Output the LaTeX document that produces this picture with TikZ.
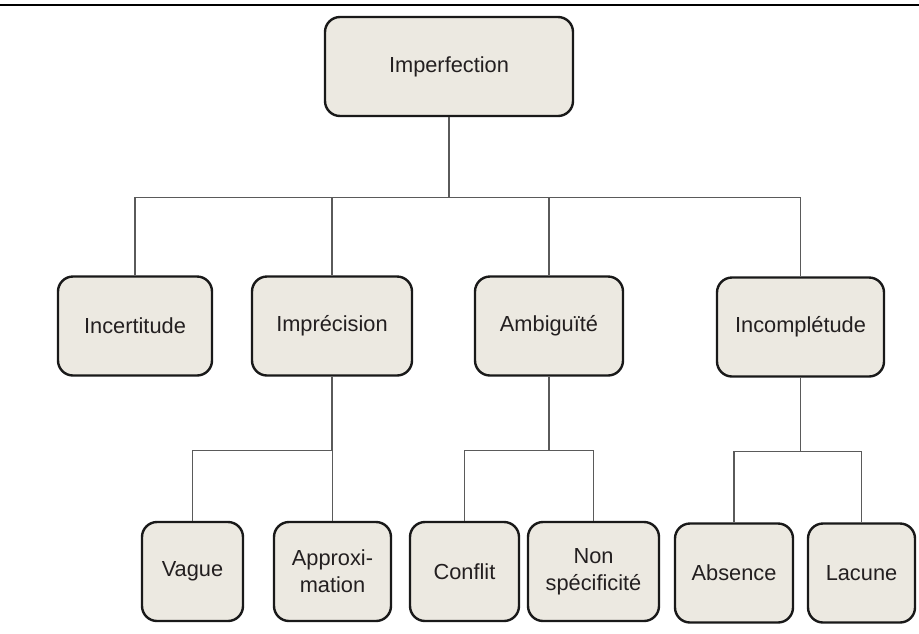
\documentclass[tikz,border=0pt]{standalone}
\usepackage{fontspec}
\setmainfont{Liberation Sans}
\usepackage{xcolor}
\usepackage{tikz}
\usetikzlibrary{positioning}

\definecolor{boxfill}{HTML}{ECE9E1}
\definecolor{linkgray}{HTML}{5A5A5A}
\definecolor{txtdark}{HTML}{231F20}

\begin{document}
\begin{tikzpicture}[x=0.5pt, y=-0.5pt,
    concept/.style={draw=black!90, line width=1.2pt, fill=boxfill, rounded corners=7.5pt,
        minimum height=49.5pt, align=center, text=txtdark, inner sep=0pt,
        font=\fontsize{10.9}{13.5}\selectfont},
    link/.style={draw=linkgray, line width=0.55pt}]
    \useasboundingbox (0,0) rectangle (919,633);
    % Rule at the top
    \draw[line width=1pt] (0,5) -- (919,5);
    % Root
    \node[concept, minimum width=124pt] (imperf) at (449,66.5) {Imperfection};
    % Second level
    \node[concept, minimum width=77pt] (incert) at (135,326) {Incertitude};
    \node[concept, minimum width=80pt] (imprec) at (332,326) {Imprécision};
    \node[concept, minimum width=74pt] (ambig) at (549,326) {Ambiguïté};
    \node[concept, minimum width=83.5pt] (incompl) at (800.5,327) {Incomplétude};
    % Third level
    \node[concept, minimum width=50.5pt] (vague) at (192.5,571.5) {Vague};
    \node[concept, minimum width=58.5pt] (approx) at (332.5,571.5) {Approxi-\\mation};
    \node[concept, minimum width=54.5pt] (conflit) at (464.5,571.5) {Conflit};
    \node[concept, minimum width=65.5pt] (nonspec) at (593.5,571.5) {Non\\spécificité};
    \node[concept, minimum width=59pt] (absence) at (734,573) {Absence};
    \node[concept, minimum width=53.5pt] (lacune) at (861.5,573) {Lacune};
    % Links
    \foreach \c in {incert,imprec,ambig,incompl}
        \draw[link] (imperf.south) -- ++(0,80) -| (\c.north);
    \foreach \c in {vague,approx}
        \draw[link] (imprec.south) -- ++(0,74) -| (\c.north);
    \foreach \c in {conflit,nonspec}
        \draw[link] (ambig.south) -- ++(0,74) -| (\c.north);
    \foreach \c in {absence,lacune}
        \draw[link] (incompl.south) -- ++(0,74) -| (\c.north);
\end{tikzpicture}
\end{document}
